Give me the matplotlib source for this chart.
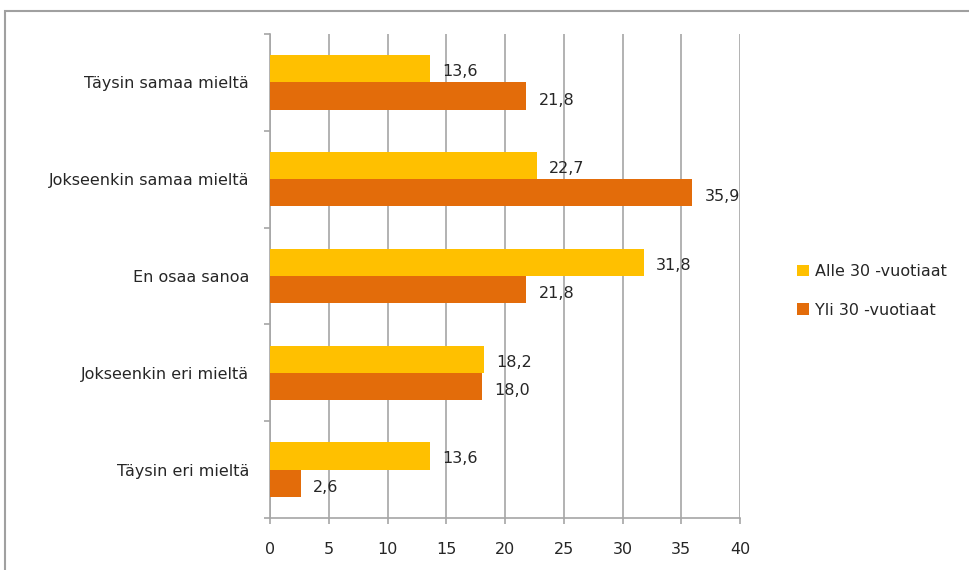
import matplotlib
matplotlib.use("Agg")
import matplotlib.pyplot as plt
from matplotlib.patches import Rectangle
import numpy as np

categories = ["Täysin samaa mieltä", "Jokseenkin samaa mieltä", "En osaa sanoa",
              "Jokseenkin eri mieltä", "Täysin eri mieltä"]
alle30 = [13.6, 22.7, 31.8, 18.2, 13.6]
yli30 = [21.8, 35.9, 21.8, 18.0, 2.6]
series_names = ["Alle 30 -vuotiaat", "Yli 30 -vuotiaat"]
xticks = [0, 5, 10, 15, 20, 25, 30, 35, 40]

yellow = "#FFC000"
orange = "#E36C0A"
grid_col = "#a6a6a6"
text_col = "#262626"
fs = 11.5

plt.rcParams["font.family"] = "DejaVu Sans"

fig = plt.figure(figsize=(9.69, 5.70), dpi=100)
ax = fig.add_axes([270 / 969, 52 / 570, 470 / 969, 484 / 570])

# outer chart border (left and top edges visible)
fig.patches.append(Rectangle((5 / 969, -0.1), 1.2, (570 - 11) / 570 + 0.1,
                             transform=fig.transFigure, fill=False,
                             edgecolor="#a0a0a0", linewidth=1.5))

y = np.arange(len(categories))
h = 0.28
ax.barh(y - h / 2, alle30, height=h, color=yellow, label=series_names[0], zorder=3)
ax.barh(y + h / 2, yli30, height=h, color=orange, label=series_names[1], zorder=3)

for yi, v in zip(y, alle30):
    ax.annotate(f"{v:.1f}".replace(".", ","), (v, yi - h / 2), xytext=(9, -2),
                textcoords="offset points", va="center", ha="left",
                fontsize=fs, color=text_col)
for yi, v in zip(y, yli30):
    ax.annotate(f"{v:.1f}".replace(".", ","), (v, yi + h / 2), xytext=(9, -3),
                textcoords="offset points", va="center", ha="left",
                fontsize=fs, color=text_col)

ax.set_xlim(0, 40)
ax.set_ylim(len(categories) - 0.5, -0.5)
ax.set_xticks(xticks)
ax.set_xticklabels([str(t) for t in xticks])
ax.set_yticks(y)
ax.set_yticklabels(categories)
ax.set_yticks(np.arange(len(categories) + 1) - 0.5, minor=True)

ax.grid(axis="x", color=grid_col, linewidth=1.2, zorder=0)
for s in ["top", "right"]:
    ax.spines[s].set_visible(False)
for s in ["left", "bottom"]:
    ax.spines[s].set_color(grid_col)
    ax.spines[s].set_linewidth(1.2)

ax.tick_params(axis="y", which="major", length=0, pad=15, labelsize=fs,
               labelcolor=text_col)
ax.tick_params(axis="y", which="minor", length=4, width=1.2, color=grid_col)
ax.tick_params(axis="x", length=4, width=1.2, color=grid_col, pad=13,
               labelsize=fs, labelcolor=text_col)

ax.legend(loc="center left", bbox_to_anchor=(783 / 969, 279 / 570),
          bbox_transform=fig.transFigure, frameon=False, fontsize=fs,
          handlelength=0.7, handleheight=0.7, handletextpad=0.4,
          labelspacing=1.45, labelcolor=text_col)

fig.savefig("out.png", dpi=100)
